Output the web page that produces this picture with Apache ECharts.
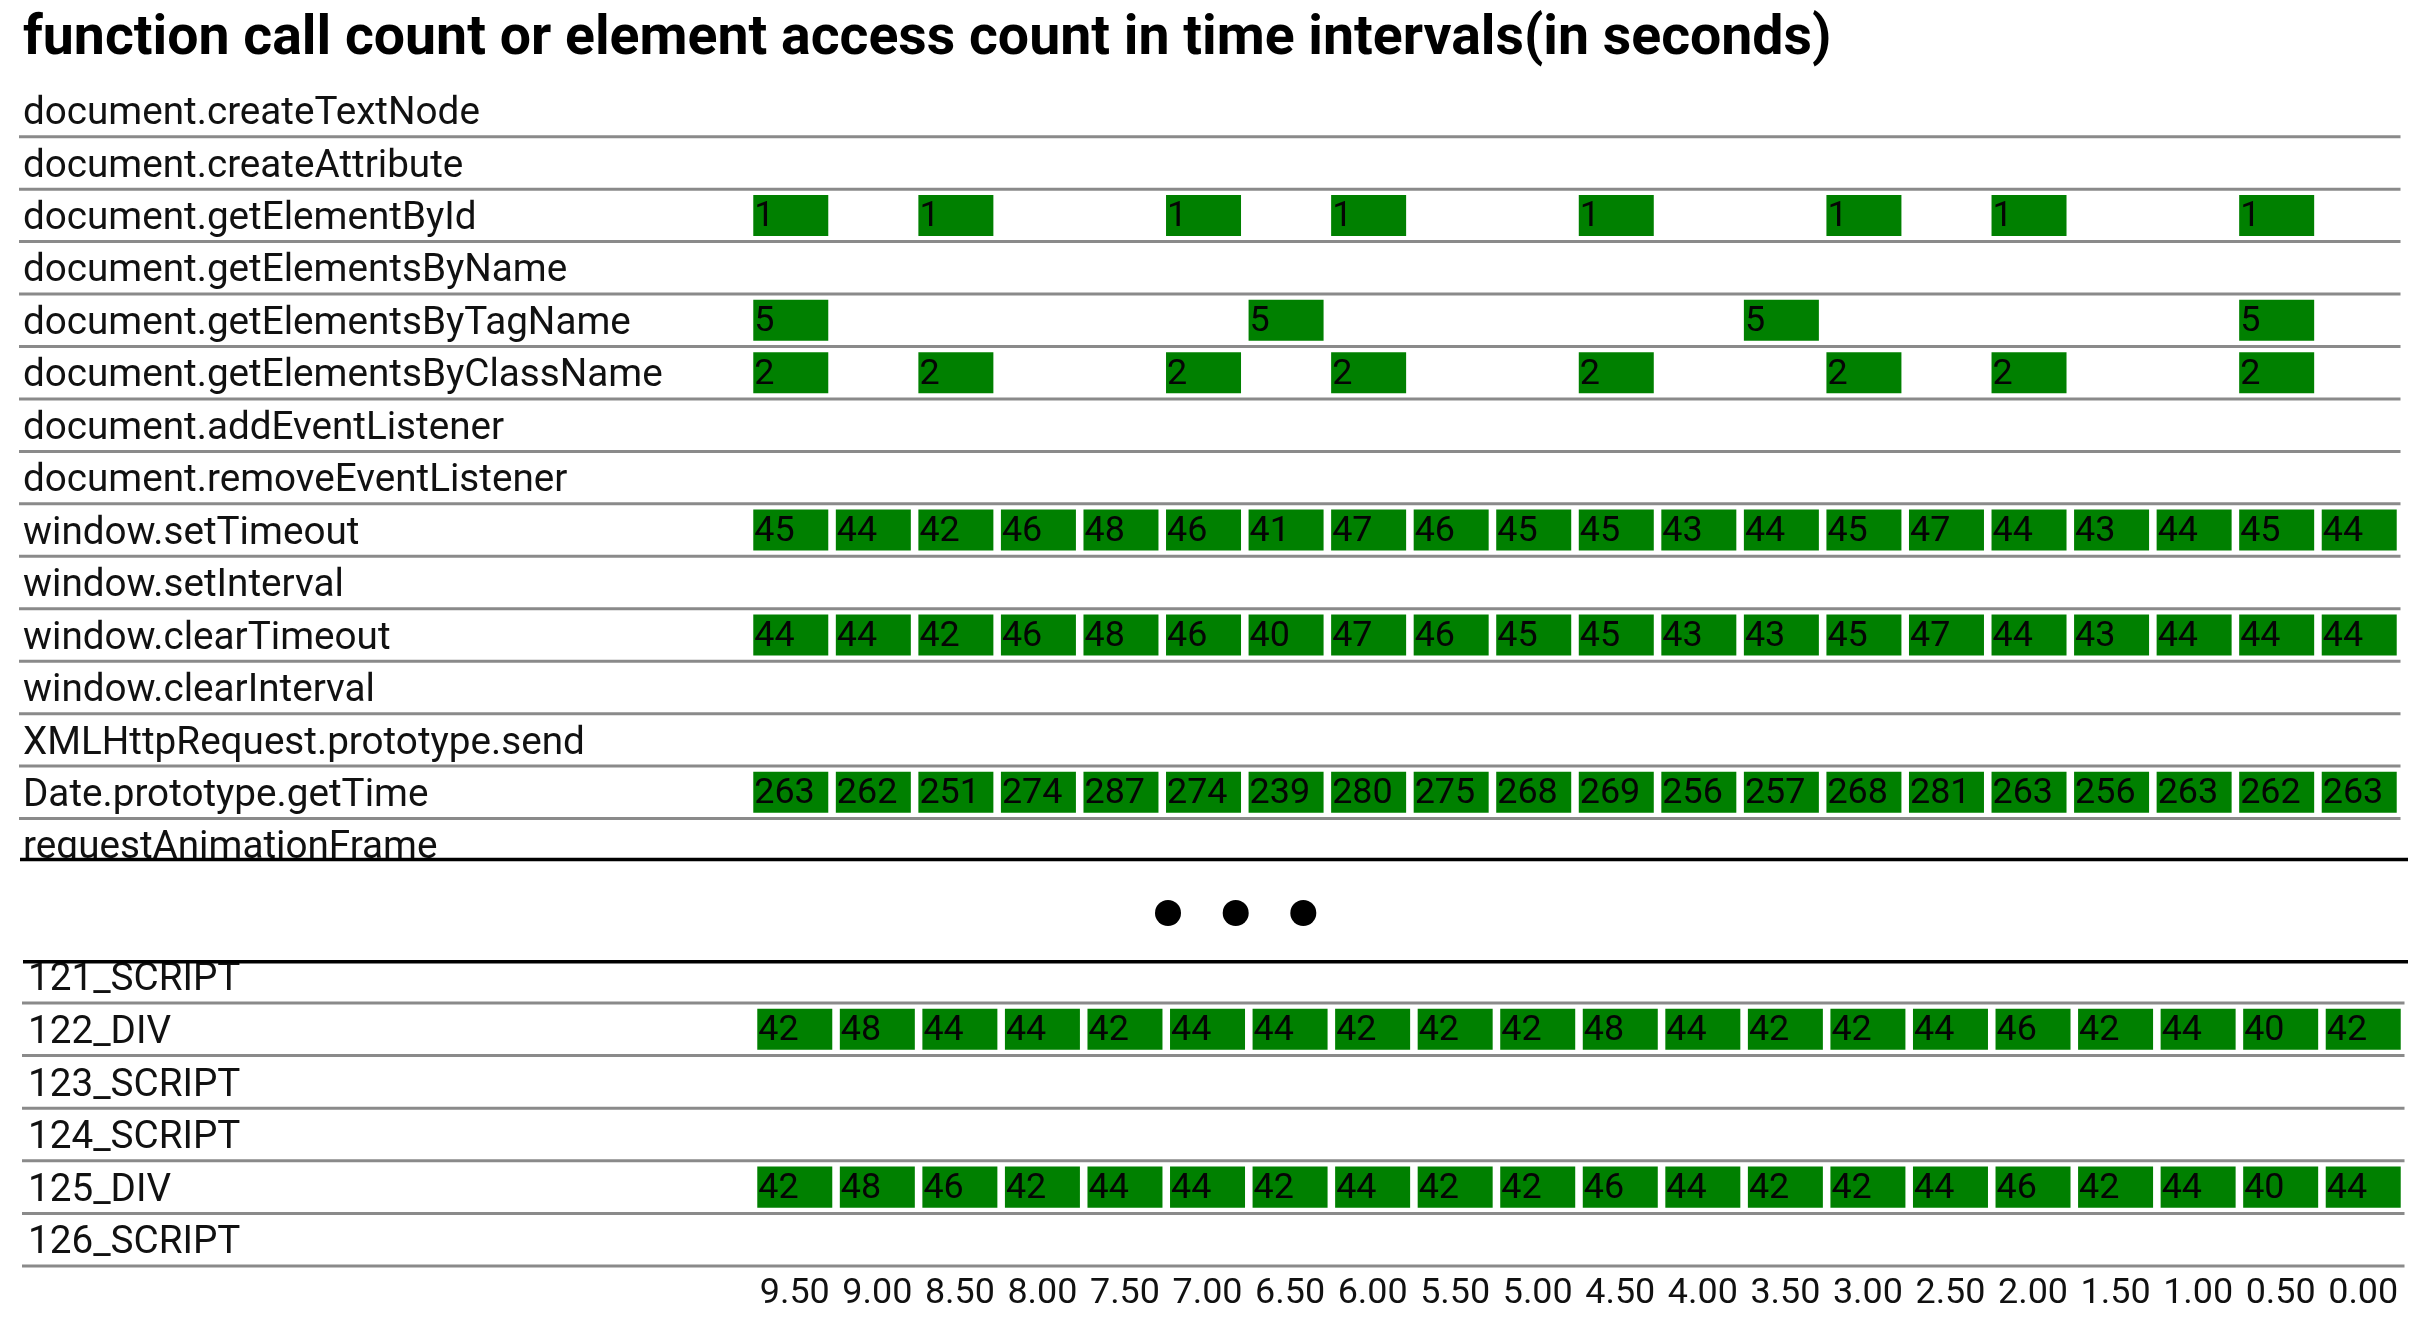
<!DOCTYPE html>
<html><head><meta charset="utf-8">
<script src="https://cdn.jsdelivr.net/npm/echarts@6/dist/echarts.min.js"></script>
<style>html,body{margin:0;padding:0;background:#fff}#c{width:2421px;height:1324px}</style>
</head><body><div id="c"></div>
<script>
// ---------------- data ----------------
const chartTitle = 'function call count or element access count in time intervals(in seconds)';
const timeLabels = ['9.50','9.00','8.50','8.00','7.50','7.00','6.50','6.00','5.50','5.00',
                    '4.50','4.00','3.50','3.00','2.50','2.00','1.50','1.00','0.50','0.00'];
const topCategories = ['document.createTextNode','document.createAttribute','document.getElementById',
  'document.getElementsByName','document.getElementsByTagName','document.getElementsByClassName',
  'document.addEventListener','document.removeEventListener','window.setTimeout','window.setInterval',
  'window.clearTimeout','window.clearInterval','XMLHttpRequest.prototype.send','Date.prototype.getTime',
  'requestAnimationFrame'];
const bottomCategories = ['121_SCRIPT','122_DIV','123_SCRIPT','124_SCRIPT','125_DIV','126_SCRIPT'];

const getElementById         = [1,null,1,null,null,1,null,1,null,null,1,null,null,1,null,1,null,null,1,null];
const getElementsByTagName   = [5,null,null,null,null,null,5,null,null,null,null,null,5,null,null,null,null,null,5,null];
const getElementsByClassName = [2,null,2,null,null,2,null,2,null,null,2,null,null,2,null,2,null,null,2,null];
const setTimeoutCounts   = [45,44,42,46,48,46,41,47,46,45,45,43,44,45,47,44,43,44,45,44];
const clearTimeoutCounts = [44,44,42,46,48,46,40,47,46,45,45,43,43,45,47,44,43,44,44,44];
const getTimeCounts      = [263,262,251,274,287,274,239,280,275,268,269,256,257,268,281,263,256,263,262,263];
const div122Counts       = [42,48,44,44,42,44,44,42,42,42,48,44,42,42,44,46,42,44,40,42];
const div125Counts       = [42,48,46,42,44,44,42,44,42,42,46,44,42,42,44,46,42,44,40,44];

const topRows = [
  ['document.getElementById', getElementById],
  ['document.getElementsByTagName', getElementsByTagName],
  ['document.getElementsByClassName', getElementsByClassName],
  ['window.setTimeout', setTimeoutCounts],
  ['window.clearTimeout', clearTimeoutCounts],
  ['Date.prototype.getTime', getTimeCounts]
];
const bottomRows = [
  ['122_DIV', div122Counts],
  ['125_DIV', div125Counts]
];

// ---------------- build ----------------
function buildCells(rows, cats) {
  const out = [];
  rows.forEach(([name, arr]) => {
    const r = cats.indexOf(name);
    arr.forEach((v, c) => { if (v !== null && v !== undefined) out.push([c, r, v]); });
  });
  return out;
}
const FONT = 'Roboto';
const ctx = document.createElement('canvas').getContext('2d');
function fit(text, weight, target) {
  ctx.font = weight + ' 100px ' + FONT;
  return 100 * target / ctx.measureText(text).width;
}
const titleSize = fit(chartTitle, 'bold', 1809);
const labelSize = fit('document.createTextNode', 'normal', 457);
const numSize = fit('9.50', 'normal', 70);

const BAR_W = 75 / 82.55, BAR_H = 41 / 52.45;

function renderBar(params, api) {
  const v = api.value(2);
  const c = api.coord([api.value(0), api.value(1)]);
  const s = api.size([1, 1]);
  const w = s[0] * BAR_W, h = s[1] * BAR_H;
  const x = c[0] - w / 2, y = c[1] - h / 2;
  return { type: 'group', children: [
    { type: 'rect', shape: { x: x, y: y, width: w, height: h }, style: { fill: '#008000' } },
    { type: 'text', style: { text: String(v), x: x + 1, y: c[1] + 2, align: 'left', verticalAlign: 'middle',
      fill: '#050505', fontSize: numSize, fontFamily: FONT } }
  ]};
}
function makeRule(x0) {
  return function (params, api) {
    const cs = params.coordSys;
    const c = api.coord([0, api.value(1)]);
    const h = api.size([1, 1])[1];
    const y = c[1] + h / 2;
    return { type: 'line', shape: { x1: x0, y1: y, x2: cs.x + cs.width, y2: y },
      style: { stroke: '#8a8a8a', lineWidth: 3 } };
  };
}

const TOP = { left: 749.5, top: 84.25, width: 1651, height: 15 * 52.45 };
const BOT = { left: 753.5, top: 950.4, width: 1651, height: 6 * 52.6 };

function yAxisFor(idx, cats, labelX, grid) {
  return { type: 'category', gridIndex: idx, data: cats, inverse: true,
    axisLine: { show: false }, axisTick: { show: false }, splitLine: { show: false },
    axisLabel: { interval: 0, align: 'left', verticalAlign: 'top', lineHeight: 8,
      margin: grid.left - labelX, color: '#111', fontFamily: FONT, fontSize: labelSize } };
}

const option = {
  animation: false,
  backgroundColor: '#fff',
  title: { text: chartTitle, left: 18, top: 42 - titleSize * 0.62,
    textStyle: { fontFamily: FONT, fontWeight: 'bold', fontSize: titleSize, color: '#000' } },
  grid: [
    Object.assign({ outerBoundsMode: 'none', containLabel: false }, TOP),
    Object.assign({ outerBoundsMode: 'none', containLabel: false }, BOT)
  ],
  xAxis: [
    { type: 'category', gridIndex: 0, data: timeLabels, show: false },
    { type: 'category', gridIndex: 1, data: timeLabels,
      axisLine: { show: false }, axisTick: { show: false }, splitLine: { show: false },
      axisLabel: { interval: 0, margin: 10, color: '#111', fontFamily: FONT, fontSize: numSize } }
  ],
  yAxis: [
    yAxisFor(0, topCategories, 23, TOP),
    yAxisFor(1, bottomCategories, 28, BOT)
  ],
  series: [
    { type: 'custom', xAxisIndex: 0, yAxisIndex: 0, clip: false, silent: true,
      data: topCategories.map((c, i) => [0, i]), encode: { x: 0, y: 1 }, renderItem: makeRule(19), z: 1 },
    { type: 'custom', xAxisIndex: 1, yAxisIndex: 1, clip: false, silent: true,
      data: bottomCategories.map((c, i) => [0, i]), encode: { x: 0, y: 1 }, renderItem: makeRule(22), z: 1 },
    { type: 'custom', xAxisIndex: 0, yAxisIndex: 0, data: buildCells(topRows, topCategories),
      encode: { x: 0, y: 1 }, renderItem: renderBar, z: 3 },
    { type: 'custom', xAxisIndex: 1, yAxisIndex: 1, data: buildCells(bottomRows, bottomCategories),
      encode: { x: 0, y: 1 }, renderItem: renderBar, z: 3 }
  ],
  graphic: [
    { type: 'rect', z: 100, shape: { x: 0, y: 861, width: 2421, height: 99 }, style: { fill: '#fff' } },
    { type: 'line', z: 101, shape: { x1: 20, y1: 859.5, x2: 2408, y2: 859.5 }, style: { stroke: '#000', lineWidth: 3.5 } },
    { type: 'line', z: 101, shape: { x1: 23, y1: 961.8, x2: 2408, y2: 961.8 }, style: { stroke: '#000', lineWidth: 3.5 } },
    { type: 'circle', z: 101, shape: { cx: 1168, cy: 913, r: 13 }, style: { fill: '#000' } },
    { type: 'circle', z: 101, shape: { cx: 1235.7, cy: 913, r: 13 }, style: { fill: '#000' } },
    { type: 'circle', z: 101, shape: { cx: 1303.3, cy: 913, r: 13 }, style: { fill: '#000' } }
  ]
};
const chart = echarts.init(document.getElementById('c'), null, { renderer: 'canvas' });
chart.setOption(option);
</script></body></html>
